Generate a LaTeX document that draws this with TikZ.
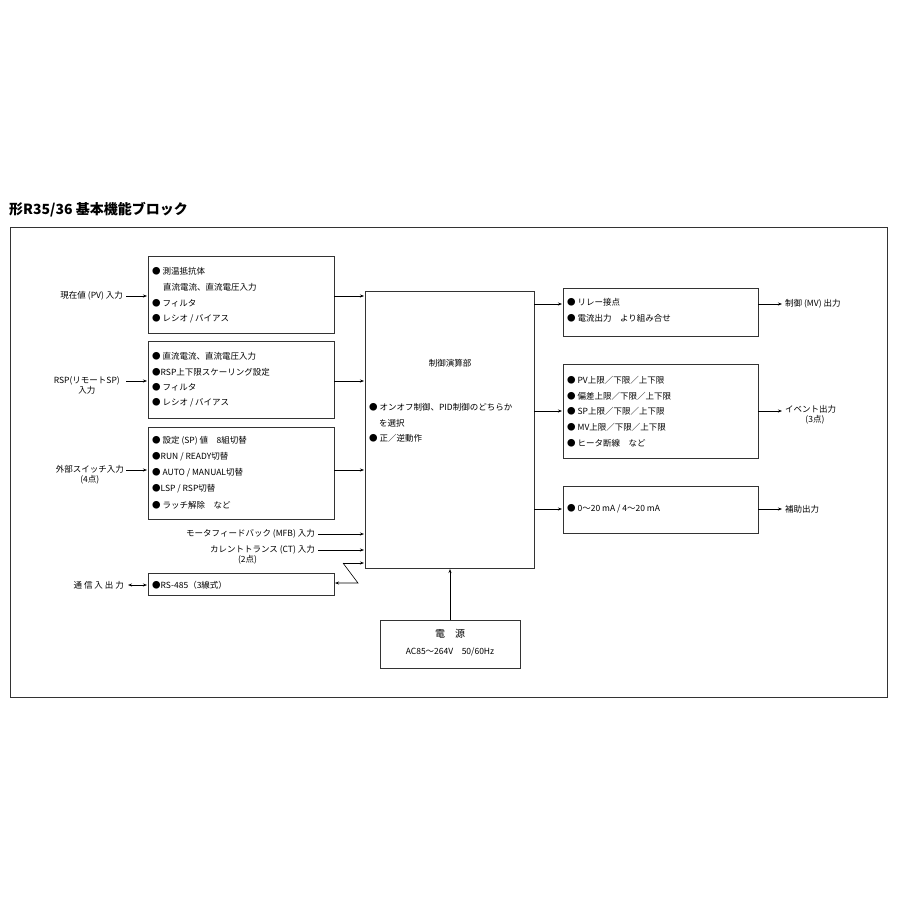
\documentclass[tikz,border=0pt]{standalone}
\usepackage{fontspec}
\setmainfont{Noto Sans CJK JP}
\usetikzlibrary{arrows.meta,positioning}
\tikzset{
  % box
  cstbox/.style   ={draw=black!80,line width=0.8pt},
  csttext/.style  ={anchor=west,inner sep=0pt,font=\fontsize{8.5}{10}\selectfont},
  cstlabel/.style ={inner sep=0pt,font=\fontsize{8.5}{10}\selectfont,align=center},
  % arrow
  cstra/.style    ={-{Stealth[length=4pt,width=3pt]},line width=0.6pt},
  cstlra/.style   ={{Stealth[length=4pt,width=3pt]}-{Stealth[length=4pt,width=3pt]},line width=0.6pt}
}
\begin{document}
\begin{tikzpicture}[x=1pt,y=-1pt]
  \useasboundingbox (0,0) rectangle (900,900);
  \node[anchor=west,inner sep=0pt,font=\bfseries\fontsize{14}{16}\selectfont] (title) at (9,210) {形R35/36 基本機能ブロック};
  \draw[line width=0.7pt,black!80] (10,227) rectangle (887,697);
  % left boxes
  \draw[cstbox] (148,256) rectangle (334,333) coordinate (pv);
  \draw[cstbox] (148,341) rectangle (334,418);
  \draw[cstbox] (148,427) rectangle (334,519);
  \draw[cstbox] (148,573) rectangle (334,595);
  \node[csttext] at (152,271) {● 測温抵抗体};
  \node[csttext] at (163,287) {直流電流、直流電圧入力};
  \node[csttext] at (152,303) {● フィルタ};
  \node[csttext] at (152,319) {● レシオ / バイアス};
  \node[csttext] at (152,356) {● 直流電流、直流電圧入力};
  \node[csttext] at (152,372) {●RSP上下限スケーリング設定};
  \node[csttext] at (152,387) {● フィルタ};
  \node[csttext] at (152,403) {● レシオ / バイアス};
  \node[csttext] at (152,441) {● 設定 (SP) 値　8組切替};
  \node[csttext] at (152,457) {●RUN / READY切替};
  \node[csttext] at (152,473) {● AUTO / MANUAL切替};
  \node[csttext] at (152,489) {●LSP / RSP切替};
  \node[csttext] at (152,505) {● ラッチ解除　など};
  \node[csttext] at (152,585) {●RS-485（3線式）};
  % input labels
  \node[cstlabel,anchor=east] (inpv) at (123,296) {現在値 (PV) 入力};
  \node[cstlabel,anchor=north east] (inrsp) at (120,376) {RSP(リモートSP)\\入力};
  \node[cstlabel,anchor=north east] (inext) at (124,465) {外部スイッチ入力\\(4点)};
  \node[cstlabel,anchor=east] (inmfb) at (315,534) {モータフィードバック (MFB) 入力};
  \node[cstlabel,anchor=north east] (inct) at (315,545) {カレントトランス (CT) 入力\\(2点)\hspace*{3.5em}};
  \node[cstlabel,anchor=east] (incom) at (124,585) {通 信 入 出 力};
  % center
  \draw[cstbox] (365,291) rectangle (534,568);
  \node[cstlabel] (calc) at (450,363) {制御演算部};
  \node[csttext] at (369,407) {● オンオフ制御、PID制御のどちらか};
  \node[csttext] at (379,423) {を選択};
  \node[csttext] at (369,438) {● 正／逆動作};
  % power
  \draw[cstbox] (380,620) rectangle (520,668);
  \node[cstlabel] at (450,634) {\fontsize{10}{12}\selectfont 電　源};
  \node[cstlabel] at (450,652) {AC85～264V　50/60Hz};
  % right boxes
  \draw[cstbox] (563,288) rectangle (758,336);
  \draw[cstbox] (563,364) rectangle (758,458);
  \draw[cstbox] (563,486) rectangle (758,533);
  \node[csttext] at (567,302) {● リレー接点};
  \node[csttext] at (567,318) {● 電流出力　より組み合せ};
  \node[csttext] at (567,380) {● PV上限／下限／上下限};
  \node[csttext] at (567,396) {● 偏差上限／下限／上下限};
  \node[csttext] at (567,411) {● SP上限／下限／上下限};
  \node[csttext] at (567,427) {● MV上限／下限／上下限};
  \node[csttext] at (567,443) {● ヒータ断線　など};
  \node[csttext] at (567,509) {● 0～20 mA / 4～20 mA};
  \node[csttext] (outmv) at (785,304) {制御 (MV) 出力};
  \node[cstlabel,anchor=north west] (outev) at (785,405) {イベント出力\\\hspace*{1em}(3点)};
  \node[csttext] (outaux) at (785,509) {補助出力};
  % arrows
  \draw[cstra] (126,296) -- (147,296);
  \draw[cstra] (126,381) -- (147,381);
  \draw[cstra] (126,470) -- (147,470);
  \draw[cstlra] (128,585) -- (147,585);
  \foreach \y in {296,381,470} \draw[cstra] (334,\y) -- (364,\y);
  \draw[cstra] (318,534) -- (364,534);
  \draw[cstra] (318,550) -- (364,550);
  \draw[cstra] (343,563) -- (364,563);
  \draw[cstra] (343,563) -- (358,583) -- (335,583);
  \draw[cstra] (450,620) -- (450,569);
  \foreach \y in {304,411,509} {
    \draw[cstra] (534,\y) -- (562,\y);
    \draw[cstra] (758,\y) -- (782,\y);
  }
\end{tikzpicture}
\end{document}
